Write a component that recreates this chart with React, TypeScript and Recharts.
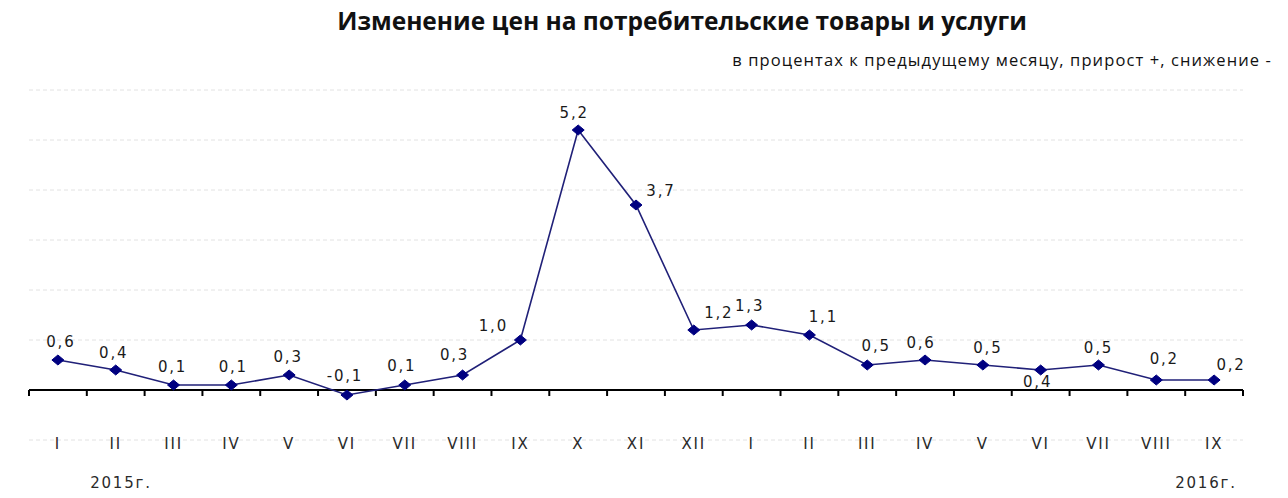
import React from 'react';
import { LineChart, Line, XAxis, YAxis, CartesianGrid, ReferenceLine } from 'recharts';

const months = ['I', 'II', 'III', 'IV', 'V', 'VI', 'VII', 'VIII', 'IX', 'X', 'XI', 'XII', 'I', 'II', 'III', 'IV', 'V', 'VI', 'VII', 'VIII', 'IX'];
const values = [0.6, 0.4, 0.1, 0.1, 0.3, -0.1, 0.1, 0.3, 1.0, 5.2, 3.7, 1.2, 1.3, 1.1, 0.5, 0.6, 0.5, 0.4, 0.5, 0.2, 0.2];
const yTicks = [-1, 0, 1, 2, 3, 4, 5, 6];
const title = 'Изменение цен на потребительские товары и услуги';
const subtitle = 'в процентах к предыдущему месяцу, прирост +, снижение -';
const yearLabels = ['2015г.', '2016г.'];

// label placement offsets (style only)
const labelDx = [3, -2, -1, 2, -1, -2, -3, -8, -27, -4, 25, 25, -2, 14, 9, -4, 5, -3, 0, 8, 17];
const labelDy = [-18, -17, -18, -18, -18, -19, -19, -20, -14, -17, -14, -17, -19, -18, -19, -17, -17, 12, -17, -21, -15];

const data = months.map((m, i) => ({ key: `${m}-${i}`, month: m, value: values[i] }));

const W = 1288;
const H = 498;
const TXT = '"DejaVu Sans", Verdana, sans-serif';
const NAVY = '#000080';

const fmt = (v: number) => v.toFixed(1).replace('.', ',');

const Diamond = (props: any) => {
  const { cx, cy } = props;
  if (cx == null || cy == null) return null;
  return <polygon points={`${cx - 6},${cy} ${cx},${cy - 5} ${cx + 6},${cy} ${cx},${cy + 5}`} fill={NAVY} stroke={NAVY} strokeWidth={1} />;
};

const renderLabel = (props: any) => {
  const { x, y, value, index } = props;
  return (
    <text
      x={x + labelDx[index]}
      y={y + labelDy[index]}
      textAnchor="middle"
      dominantBaseline="central"
      fontFamily={TXT}
      fontSize={15}
      letterSpacing={1.8}
      fill="#1a1a1a"
    >
      {fmt(value)}
    </text>
  );
};

const renderTick = (props: any) => {
  const { x, y, payload } = props;
  return (
    <text x={x} y={y + 4} textAnchor="middle" dominantBaseline="central" fontFamily={TXT} fontSize={15} letterSpacing={1.8} fill="#2a2a2a">
      {months[payload.index] ?? payload.value}
    </text>
  );
};

const ZeroAxis = (props: any) => {
  const { x1, y1, x2 } = props;
  const n = months.length;
  const step = (x2 - x1) / n;
  const marks = [];
  for (let i = 0; i <= n; i++) {
    const x = x1 + step * i;
    marks.push(<line key={i} x1={x} y1={y1} x2={x} y2={y1 + 6} stroke="#000" strokeWidth={2} />);
  }
  return (
    <g>
      <line x1={x1} y1={y1} x2={x2} y2={y1} stroke="#000" strokeWidth={2} />
      {marks}
    </g>
  );
};

export default function App() {
  return (
    <div style={{ position: 'absolute', left: 0, top: 0, width: W, height: H, background: '#fff', overflow: 'hidden' }}>
      <div
        style={{
          position: 'absolute',
          left: 682,
          top: 4,
          transform: 'translateX(-50%)',
          fontFamily: '"Open Sans", sans-serif',
          fontWeight: 700,
          fontSize: 24.5,
          color: '#111',
          whiteSpace: 'nowrap',
        }}
      >
        {title}
      </div>
      <div
        style={{
          position: 'absolute',
          right: 16,
          top: 48,
          fontFamily: '"Open Sans", sans-serif',
          fontSize: 16.5,
          letterSpacing: 1.1,
          color: '#111',
          whiteSpace: 'nowrap',
        }}
      >
        {subtitle}
      </div>
      <div style={{ position: 'absolute', left: 0, top: 0 }}>
        <LineChart width={W} height={H} data={data} margin={{ top: 90, left: 29, right: 45, bottom: 28 }}>
          <CartesianGrid vertical={false} stroke="#e2e2e2" strokeDasharray="4 3" />
          <YAxis hide domain={[-1, 6]} ticks={yTicks} type="number" />
          <XAxis
            dataKey="key"
            scale="band"
            height={30}
            axisLine={false}
            tickLine={false}
            tickSize={0}
            tickMargin={0}
            interval={0}
            tick={renderTick}
          />
          <ReferenceLine y={0} stroke="#000" shape={ZeroAxis} />
          <Line
            type="linear"
            dataKey="value"
            stroke="#202078"
            strokeWidth={1.6}
            dot={<Diamond />}
            activeDot={false}
            label={renderLabel}
            isAnimationActive={false}
          />
        </LineChart>
      </div>
      <div style={{ position: 'absolute', left: 121, top: 483, transform: 'translate(-50%, -50%)', fontFamily: TXT, fontSize: 15, letterSpacing: 1.8, color: '#2a2a2a', whiteSpace: 'nowrap' }}>
        {yearLabels[0]}
      </div>
      <div style={{ position: 'absolute', left: 1206, top: 483, transform: 'translate(-50%, -50%)', fontFamily: TXT, fontSize: 15, letterSpacing: 1.8, color: '#2a2a2a', whiteSpace: 'nowrap' }}>
        {yearLabels[1]}
      </div>
    </div>
  );
}
